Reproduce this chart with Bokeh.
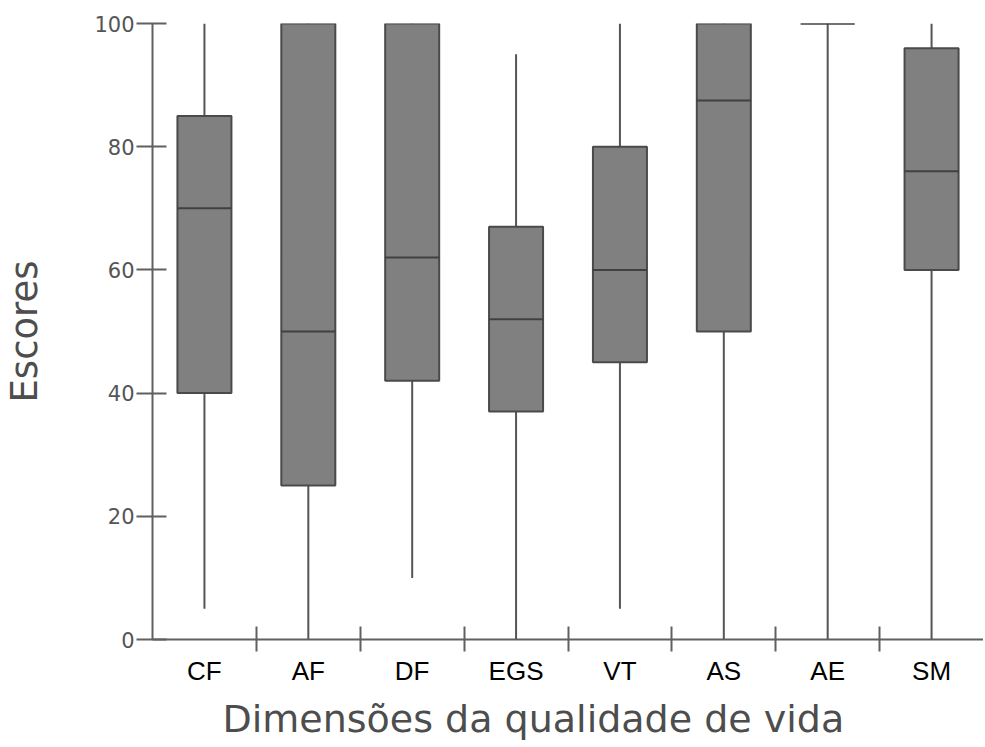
from bokeh.plotting import figure
from bokeh.models import FixedTicker, Title, ColumnDataSource, Range1d
from bokeh.embed import file_html
from bokeh.resources import INLINE

# ---- data ----
categories = ["CF", "AF", "DF", "EGS", "VT", "AS", "AE", "SM"]
whisker_low = [5, 0, 10, 0, 5, 0, 0, 0]
q1 = [40, 25, 42, 37, 45, 50, 100, 60]
median = [70, 50, 62, 52, 60, 87.5, 100, 76]
q3 = [85, 100, 100, 67, 80, 100, 100, 96]
whisker_high = [100, 100, 100, 95, 100, 100, 100, 100]
y_ticks = [0, 20, 40, 60, 80, 100]

x_title = "Dimensões da qualidade de vida"
y_title = "Escores"

n = len(categories)
xs = [i + 0.5 for i in range(n)]
boundaries = [i for i in range(1, n)]

src = ColumnDataSource(dict(x=xs, cat=categories, low=whisker_low, q1=q1,
                            med=median, q3=q3, high=whisker_high))

AX = "#606060"
TXT = "#4d4d4d"

p = figure(frame_width=831, frame_height=616,
           x_range=Range1d(0, n), y_range=Range1d(0, 100),
           output_backend="svg", toolbar_location=None,
           min_border_left=146, min_border_right=0,
           min_border_top=23, min_border_bottom=0)
p.outline_line_color = None
p.grid.visible = False
p.background_fill_color = "white"

# whiskers
p.segment(x0="x", y0="low", x1="x", y1="high", source=src,
          line_color="#555555", line_width=2)
# boxes
p.vbar(x="x", width=0.52, bottom="q1", top="q3", source=src,
       fill_color="#808080", line_color="#4a4a4a", line_width=2)
# medians
p.vbar(x="x", width=0.52, bottom="med", top="med", source=src,
       fill_color=None, line_color="#404040", line_width=2)

# x axis
xa = p.xaxis[0]
xa.ticker = FixedTicker(ticks=xs, minor_ticks=boundaries)
xa.major_label_overrides = {x: c for x, c in zip(xs, categories)}
xa.major_tick_line_color = None
xa.major_tick_out = 12
xa.major_tick_in = 0
xa.minor_tick_in = 13
xa.minor_tick_out = 12
xa.minor_tick_line_color = AX
xa.minor_tick_line_width = 2
xa.axis_line_color = AX
xa.axis_line_width = 2
xa.major_label_standoff = 4
xa.major_label_text_font = "Liberation Sans"
xa.major_label_text_font_size = "26px"
xa.major_label_text_color = "black"

# y axis
ya = p.yaxis[0]
ya.ticker = FixedTicker(ticks=y_ticks, minor_ticks=[])
ya.major_tick_in = 14
ya.major_tick_out = 16
ya.major_tick_line_color = AX
ya.major_tick_line_width = 2
ya.minor_tick_line_color = None
ya.axis_line_color = AX
ya.axis_line_width = 2
ya.major_label_standoff = 2
ya.major_label_text_font = "DejaVu Sans"
ya.major_label_text_font_size = "21px"
ya.major_label_text_color = "#555555"
ya.axis_label = y_title
ya.axis_label_text_font = "DejaVu Sans"
ya.axis_label_text_font_size = "37px"
ya.axis_label_text_font_style = "normal"
ya.axis_label_text_color = TXT
ya.axis_label_standoff = 45

t = Title(text=x_title, align="left", offset=70, standoff=12,
          text_font="DejaVu Sans", text_font_size="38px",
          text_font_style="normal", text_color=TXT)
p.add_layout(t, "below")

open("out.html", "w").write(file_html(p, INLINE))
